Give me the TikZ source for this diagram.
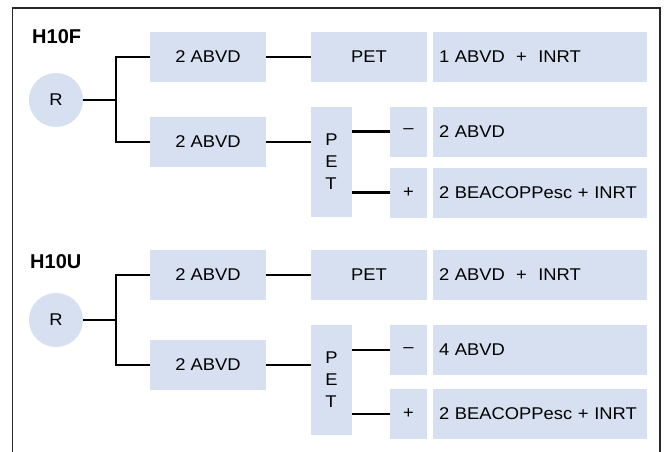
\documentclass[tikz,border=0pt]{standalone}
\usepackage{fontspec}
\setmainfont{Liberation Sans}
\newfontfamily\bxf{Liberation Sans}[FakeStretch=1.08]
\definecolor{boxfill}{RGB}{214,224,241}
\definecolor{framec}{RGB}{40,40,40}
\begin{document}
\begin{tikzpicture}[x=1pt,y=-1pt,
  box/.style={fill=boxfill, draw=none, inner sep=0pt, font=\bxf\fontsize{17}{22}\selectfont},
  rbox/.style={box, minimum width=214pt, minimum height=50pt, text width=202pt, inner xsep=6pt, align=left},
  cbox/.style={box, minimum width=116pt, minimum height=50pt},
  sbox/.style={box, minimum width=37pt, minimum height=50pt},
  tbox/.style={box, minimum width=41pt, minimum height=110pt, align=left},
  circ/.style={circle, fill=boxfill, minimum size=54pt, inner sep=0pt, font=\bxf\fontsize{17}{21}\selectfont},
  ttl/.style={anchor=west, inner sep=0pt, font=\bfseries\fontsize{20}{24}\selectfont},
  conn/.style={line width=2.2pt, black}
]
\fill[white] (0,0) rectangle (666,452);
\useasboundingbox (0,0) rectangle (666,452);
\draw[framec, line width=1.2pt] (12.7,452) -- (12.7,8) -- (660,8) -- (660,452);

% ---------- H10F ----------
\node[ttl] (t1) at (32,37) {H10F};
\node[circ] (r1) at (56,100) {R};
\coordinate (j1) at (116,100);
\node[cbox] (a1) at (208,57) {2 ABVD};
\node[cbox] (a2) at (208,142) {2 ABVD};
\node[cbox] (p1) at (369,57) {PET};
\node[rbox] (e1) at (540,57) {1 ABVD\ \ +\ \ INRT};
\node[tbox] (p2) at (331.5,161.5) {P\\E\\T};
\node[sbox] (m1) at (408.5,131.5) {–};
\node[sbox] (q1) at (408.5,192.5) {+};
\node[rbox] (e2) at (540,131.5) {2 ABVD};
\node[rbox] (e3) at (540,192.5) {2 BEACOPPesc + INRT};

\draw[conn] (r1.east) -- (j1);
\draw[conn] (a1.west) -| (j1) |- (a2.west);
\draw[conn] (a1.east) -- (p1.west);
\draw[conn] (a2.east) -- (a2.east -| p2.west);
\draw[conn] (m1.west -| p2.east) -- (m1.west);
\draw[conn] (q1.west -| p2.east) -- (q1.west);

% ---------- H10U ----------
\node[ttl] (t2) at (30,261.5) {H10U};
\node[circ] (r2) at (56,320) {R};
\coordinate (j2) at (116,320);
\node[cbox] (b1) at (208,275) {2 ABVD};
\node[cbox] (b2) at (208,365) {2 ABVD};
\node[cbox] (p3) at (369,275) {PET};
\node[rbox] (f1) at (540,275) {2 ABVD\ \ +\ \ INRT};
\node[tbox] (p4) at (331.5,380) {P\\E\\T};
\node[sbox] (m2) at (408.5,350) {–};
\node[sbox] (q2) at (408.5,414) {+};
\node[rbox] (f2) at (540,350) {4 ABVD};
\node[rbox] (f3) at (540,414) {2 BEACOPPesc + INRT};

\draw[conn] (r2.east) -- (j2);
\draw[conn] (b1.west) -| (j2) |- (b2.west);
\draw[conn] (b1.east) -- (p3.west);
\draw[conn] (b2.east) -- (b2.east -| p4.west);
\draw[conn] (m2.west -| p4.east) -- (m2.west);
\draw[conn] (q2.west -| p4.east) -- (q2.west);
\end{tikzpicture}
\end{document}
